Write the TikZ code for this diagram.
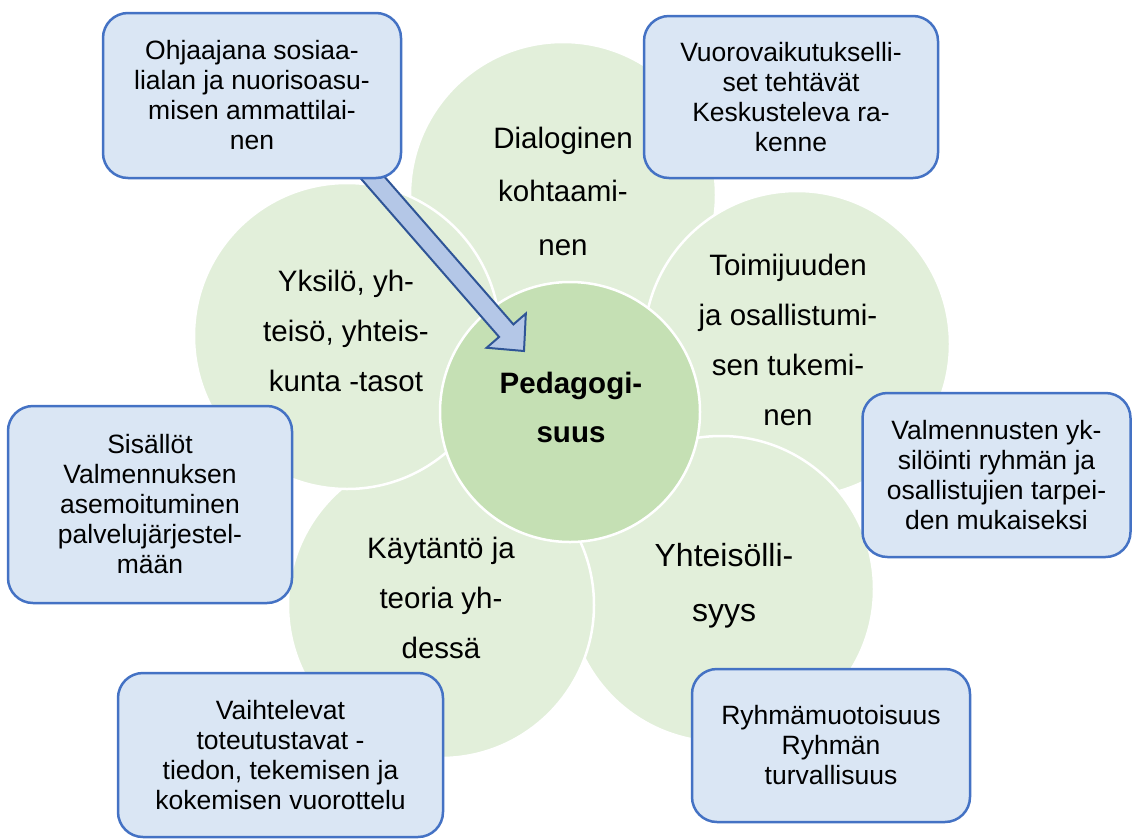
\documentclass[tikz,border=0pt]{standalone}
\usepackage{fontspec}
\setmainfont{Liberation Sans}
\usetikzlibrary{calc}
\definecolor{petal}{HTML}{E2EFDA}
\definecolor{hub}{HTML}{C5E0B4}
\definecolor{boxfill}{HTML}{DAE6F4}
\definecolor{boxline}{HTML}{4472C4}
\definecolor{arrowfill}{HTML}{B4C7E7}
\definecolor{arrowline}{HTML}{2F5597}
\begin{document}
\begin{tikzpicture}[x=1pt,y=-1pt,
  petalc/.style={circle, fill=petal, draw=white, line width=2.5pt, minimum size=306pt, inner sep=0pt},
  petaltext/.style={align=center, inner sep=0pt, font=\fontsize{29.5}{50}\selectfont},
  hubc/.style={circle, fill=hub, draw=white, line width=2.5pt, minimum size=260pt, inner sep=0pt},
  hubtext/.style={align=center, inner sep=0pt, font=\bfseries\fontsize{29.5}{49}\selectfont},
  infobox/.style={rectangle, rounded corners=25pt, fill=boxfill, draw=boxline, line width=2.5pt, align=center, inner sep=0pt, font=\fontsize{26.5}{30}\selectfont},
  blockarrow/.style={draw=arrowline, fill=arrowfill, line width=2pt, line join=miter}
  ]
\useasboundingbox (0,0) rectangle (1133,839);
% petals (drawing order as in reference)
\node[petalc] (dial) at (563,195) {};
\node[petaltext, font=\fontsize{29.5}{53.5}\selectfont] (dialtxt) at ($(dial)+(0,-4)$) {Dialoginen\\kohtaami-\\nen};
\node[petalc] (toim) at (797,344) {};
\node[petaltext] (toimtxt) at ($(toim)+(-9,-4)$) {Toimijuuden\\ja osallistumi-\\sen tukemi-\\nen};
\node[petalc] (yht) at (721,589) {};
\node[petaltext, font=\fontsize{32}{55}\selectfont] (yhttxt) at ($(yht)+(3,-3)$) {Yhteisölli-\\syys};
\node[petalc] (kay) at (441,605) {};
\node[petaltext] (kaytxt) at ($(kay)+(0,-7)$) {Käytäntö ja\\teoria yh-\\dessä};
\node[petalc] (yks) at (347,336) {};
\node[petaltext] (ykstxt) at ($(yks)+(-1,-5)$) {Yksilö, yh-\\teisö, yhteis-\\kunta -tasot};
% hub
\node[hubc] (ped) at (570,412) {};
\node[hubtext] (pedtxt) at ($(ped)+(1,-5)$) {Pedagogi-\\suus};
% block arrow
\coordinate (S) at (366,170);
\coordinate (T) at (524,351);
\coordinate (B) at ($(T)!27pt!(S)$);
\draw[blockarrow] ($(S)!9.5pt!90:(T)$) -- ($(B)!9.5pt!90:(T)$) -- ($(B)!26pt!90:(T)$) -- (T)
  -- ($(B)!26pt!-90:(T)$) -- ($(B)!9.5pt!-90:(T)$) -- ($(S)!9.5pt!-90:(T)$) -- cycle;
% boxes
\node[infobox, minimum width=298pt, minimum height=165pt] (b1) at (252,95.5) {Ohjaajana sosiaa-\\lialan ja nuorisoasu-\\misen ammattilai-\\nen};
\node[infobox, minimum width=294pt, minimum height=162pt] (b2) at (791,97) {Vuorovaikutukselli-\\set tehtävät\\Keskusteleva ra-\\kenne};
\node[infobox, minimum width=284pt, minimum height=197pt] (b3) at (150,504.5) {Sisällöt\\Valmennuksen\\asemoituminen\\palvelujärjestel-\\mään};
\node[infobox, minimum width=268pt, minimum height=164pt] (b4) at (996.5,475) {Valmennusten yk-\\silöinti ryhmän ja\\osallistujien tarpei-\\den mukaiseksi};
\node[infobox, minimum width=325pt, minimum height=164pt] (b5) at (280.5,755) {Vaihtelevat\\toteutustavat -\\tiedon, tekemisen ja\\kokemisen vuorottelu};
\node[infobox, minimum width=278pt, minimum height=153pt] (b6) at (831,745.5) {Ryhmämuotoisuus\\Ryhmän\\turvallisuus};
\end{tikzpicture}
\end{document}
